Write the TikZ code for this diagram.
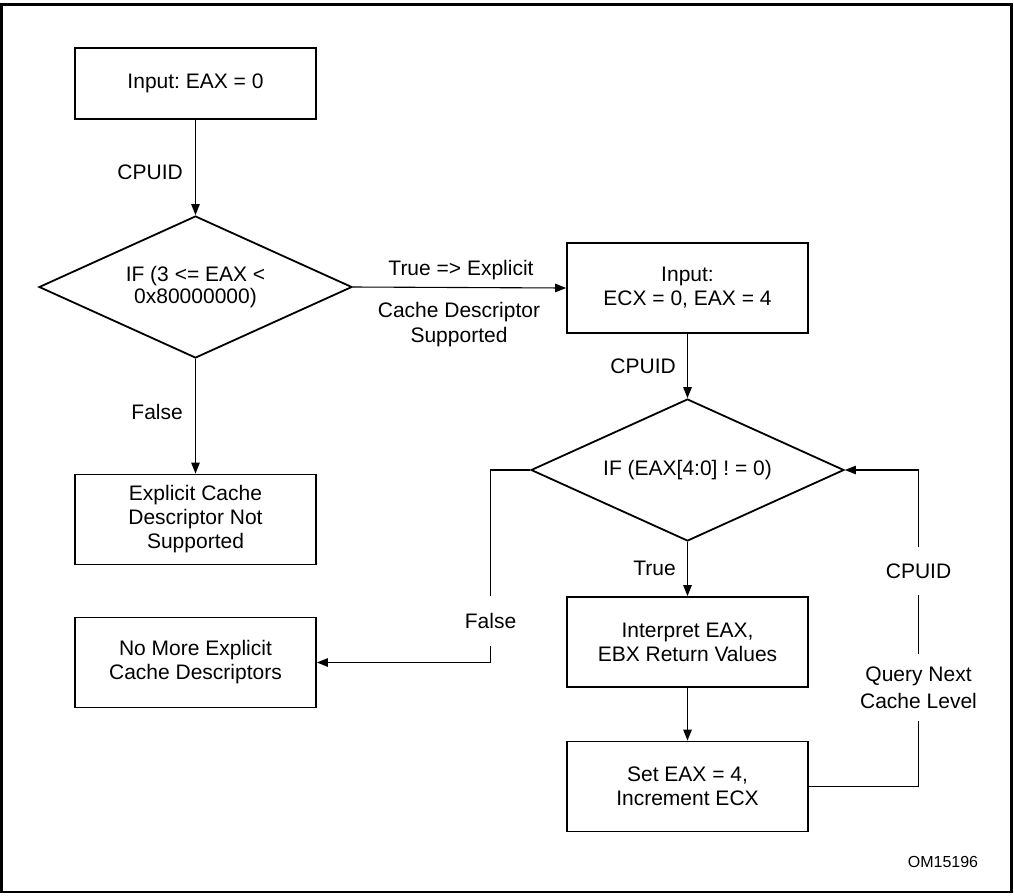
\documentclass[tikz,border=0pt]{standalone}
\usepackage{fontspec}
\setmainfont{Liberation Sans}
\usetikzlibrary{shapes.geometric,arrows.meta}
\frenchspacing

\begin{document}
\begin{tikzpicture}[
  x=1pt, y=-1pt,
  txt/.style={font=\fontsize{21}{24}\selectfont},
  procbox/.style={txt, draw, line width=1.8pt, align=center, inner sep=0pt,
    minimum width=241pt, minimum height=90pt},
  decision/.style={draw, diamond, aspect=2.2, line width=1.8pt, align=center, inner sep=0pt,
    minimum width=313pt, minimum height=142pt,
    font=\fontsize{21}{22}\selectfont},
  flow/.style={line width=1.1pt, -{Triangle[length=11pt,width=8.5pt]}},
  edgelabel/.style={txt, inner sep=1pt},
  gaplabel/.style={txt, fill=white, align=center, inner xsep=3pt}
]
\useasboundingbox (0,0) rectangle (1014,895);
\draw[line width=2.5pt] (1.5,4.5) rectangle (1011.5,892);

% boxes and decisions
\node[procbox, minimum height=71pt] (start) at (195.5,83.5) {Input: EAX = 0};
\node[decision] (leafcheck) at (195.5,287) {IF (3 <= EAX <\\0x80000000)};
\node[procbox] (nosupport) at (195.5,519.5) {Explicit Cache\\Descriptor Not\\Supported};
\node[procbox] (nomore) at (195.5,662.5) {No More Explicit\\Cache Descriptors};
\node[procbox] (leaf4) at (687.5,288) {Input:\\ECX = 0, EAX = 4};
\node[decision] (typecheck) at (687.5,470) {IF (EAX[4:0] ! = 0)};
\node[procbox] (interpret) at (687.5,642) {Interpret EAX,\\EBX Return Values};
\node[procbox] (nextlevel) at (687.5,786.5) {Set EAX = 4,\\Increment ECX};

\coordinate (loopcorner) at (918.5,470);
\coordinate (falsecorner) at (490.5,470);

% connectors
\draw[flow] (start) -- (leafcheck);
\draw[flow] (leafcheck.east) -- (leaf4.west);
\draw[flow] (leafcheck.south) -- (nosupport.north);
\draw[flow] (leaf4.south) -- (typecheck.north);
\draw[flow] (typecheck.south) -- (interpret.north);
\draw[flow] (interpret.south) -- (nextlevel.north);
\draw[flow] (nextlevel.east) -| (loopcorner) -- (typecheck.east);
\draw[flow] (typecheck.west) -- (falsecorner) |- (nomore.east);

% connector labels
\node[edgelabel, anchor=east] (cpuid1) at (184,172) {CPUID};
\node[edgelabel, anchor=east] (false1) at (184,412) {False};
\node[edgelabel] (truelbl) at (461,270) {True => Explicit};
\node[edgelabel, align=center, font=\fontsize{21}{25}\selectfont] (cachelbl) at (459,324.5) {Cache Descriptor\\Supported};
\node[edgelabel, anchor=east] (cpuid2) at (677,366) {CPUID};
\node[edgelabel, anchor=east] (true2) at (677,568) {True};
\node[gaplabel, inner ysep=17pt] (false2) at (490.5,621) {False};
\node[gaplabel, inner ysep=17pt] (cpuid3) at (918.5,571) {CPUID};
\node[gaplabel, inner ysep=13pt, font=\fontsize{21}{27}\selectfont] (querylbl) at (918.5,687.5) {Query Next\\Cache Level};
\node[font=\fontsize{16}{18}\selectfont, inner sep=0pt] (figid) at (943,862) {OM15196};
\end{tikzpicture}
\end{document}
